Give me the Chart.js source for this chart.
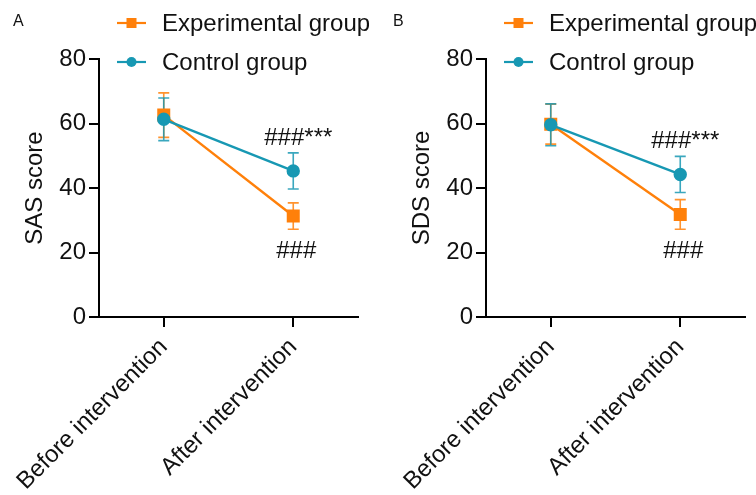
<!DOCTYPE html>
<html>
<head>
<meta charset="utf-8">
<script src="https://cdn.jsdelivr.net/npm/chart.js@4.4.1/dist/chart.umd.min.js"></script>
<style>
  body { margin: 0; background: #fff; }
  .panel { position: absolute; top: 0; height: 495px; }
</style>
</head>
<body>
<div class="panel" style="left:0;width:369px"><canvas id="chart-a" width="369" height="495"></canvas></div>
<div class="panel" style="left:387px;width:369px"><canvas id="chart-b" width="369" height="495"></canvas></div>
<script>
// values (mean and sd)
const categories = ['Before intervention', 'After intervention'];
const seriesNames = ['Experimental group', 'Control group'];
const yTicks = [0, 20, 40, 60, 80];

const sasExpMean = [62.6, 31.3];
const sasExpSd = [6.9, 4.1];
const sasCtrlMean = [61.3, 45.3];
const sasCtrlSd = [6.6, 5.6];

const sdsExpMean = [59.8, 31.8];
const sdsExpSd = [6.2, 4.6];
const sdsCtrlMean = [59.6, 44.2];
const sdsCtrlSd = [6.5, 5.6];

const sigAbove = '###***';
const sigBelow = '###';

const ORANGE = '#ff800a';
const TEAL = '#1798b3';
const FONT = '"Liberation Sans", Arial, sans-serif';

Chart.defaults.font.family = FONT;
Chart.defaults.color = '#111';

const decor = {
    id: 'decor',
    beforeDatasetsDraw(chart) {
        // error bars
        const ctx = chart.ctx;
        const y = chart.scales.y;
        chart.data.datasets.forEach((ds, di) => {
            const meta = chart.getDatasetMeta(di);
            ctx.save();
            ctx.strokeStyle = ds.borderColor;
            ctx.globalAlpha = 0.85;
            ctx.lineWidth = 1.6;
            ds.data.forEach((v, i) => {
                const x = meta.data[i].x;
                const top = y.getPixelForValue(v + ds.sd[i]);
                const bot = y.getPixelForValue(v - ds.sd[i]);
                ctx.beginPath();
                ctx.moveTo(x, top); ctx.lineTo(x, bot);
                ctx.moveTo(x - 5.5, top); ctx.lineTo(x + 5.5, top);
                ctx.moveTo(x - 5.5, bot); ctx.lineTo(x + 5.5, bot);
                ctx.stroke();
            });
            ctx.restore();
        });
    },
    afterDraw(chart, args, opts) {
        const ctx = chart.ctx;
        const area = chart.chartArea;
        const y = chart.scales.y;
        const x = chart.scales.x;
        ctx.save();

        // panel letter
        ctx.fillStyle = '#111';
        ctx.font = '16px ' + FONT;
        ctx.textBaseline = 'alphabetic';
        ctx.textAlign = 'left';
        ctx.fillText(opts.letter, opts.letterX, 26);

        // legend
        ctx.font = '24px ' + FONT;
        chart.data.datasets.forEach((ds, di) => {
            const ly = 23 + di * 39;
            const lx = area.left + 18;
            ctx.strokeStyle = ds.borderColor;
            ctx.fillStyle = ds.borderColor;
            ctx.lineWidth = 2.2;
            ctx.beginPath();
            ctx.moveTo(lx, ly); ctx.lineTo(lx + 29, ly);
            ctx.stroke();
            if (ds.pointStyle === 'rect') {
                ctx.fillRect(lx + 14.5 - 5, ly - 5, 10, 10);
            } else {
                ctx.beginPath();
                ctx.arc(lx + 14.5, ly, 5, 0, Math.PI * 2);
                ctx.fill();
            }
            ctx.fillStyle = '#111';
            ctx.textBaseline = 'middle';
            ctx.fillText(ds.label, area.left + 63, ly + 1);
        });

        // significance marks on the after-intervention point
        const exp = chart.data.datasets[0];
        const ctrl = chart.data.datasets[1];
        const cx = x.getPixelForValue(1);
        ctx.fillStyle = '#111';
        ctx.textBaseline = 'alphabetic';
        ctx.textAlign = 'left';
        ctx.fillText(sigAbove, cx - 29, y.getPixelForValue(ctrl.data[1] + ctrl.sd[1]) - 8);
        ctx.fillText(sigBelow, cx - 17, y.getPixelForValue(exp.data[1] - exp.sd[1]) + 29);
        ctx.restore();
    }
};

function makePanel(id, letter, letterX, yTitle, expMean, expSd, ctrlMean, ctrlSd) {
    const ctx = document.getElementById(id).getContext('2d');
    return new Chart(ctx, {
        type: 'line',
        data: {
            labels: categories,
            datasets: [{
                label: seriesNames[0],
                data: expMean,
                sd: expSd,
                borderColor: ORANGE,
                backgroundColor: ORANGE,
                pointBackgroundColor: ORANGE,
                pointBorderColor: ORANGE,
                pointStyle: 'rect',
                pointRadius: 7.5,
                borderWidth: 2.4,
                order: 1
            }, {
                label: seriesNames[1],
                data: ctrlMean,
                sd: ctrlSd,
                borderColor: TEAL,
                backgroundColor: TEAL,
                pointBackgroundColor: TEAL,
                pointBorderColor: TEAL,
                pointStyle: 'circle',
                pointRadius: 5.5,
                borderWidth: 2.4,
                order: 0
            }]
        },
        options: {
            responsive: false,
            animation: false,
            layout: { padding: { top: 59, right: 11, left: 0, bottom: 0 } },
            plugins: {
                legend: { display: false },
                tooltip: { enabled: false },
                decor: { letter: letter, letterX: letterX }
            },
            scales: {
                x: {
                    type: 'category',
                    offset: true,
                    grid: { display: true, drawOnChartArea: false, drawTicks: true, tickLength: 10, color: '#000', lineWidth: 2 },
                    border: { display: true, color: '#000', width: 2 },
                    ticks: { font: { size: 24 }, color: '#111', maxRotation: 45, minRotation: 45, autoSkip: false, padding: 6 },
                    afterFit: s => { s.height = 178; s.paddingLeft = 0; s.paddingRight = 0; }
                },
                y: {
                    min: 0,
                    max: 80,
                    afterBuildTicks: s => { s.ticks = yTicks.map(v => ({ value: v })); },
                    grid: { display: true, drawOnChartArea: false, drawTicks: true, tickLength: 10, color: '#000', lineWidth: 2 },
                    border: { display: true, color: '#000', width: 2 },
                    ticks: { font: { size: 24 }, color: '#111', padding: 3 },
                    title: { display: true, text: yTitle, font: { size: 24 }, color: '#111', padding: { top: 21 } },
                    afterFit: s => { s.width = 99; s.paddingTop = 0; s.paddingBottom = 0; }
                }
            }
        },
        plugins: [decor]
    });
}

makePanel('chart-a', 'A', 13, 'SAS score', sasExpMean, sasExpSd, sasCtrlMean, sasCtrlSd);
makePanel('chart-b', 'B', 6, 'SDS score', sdsExpMean, sdsExpSd, sdsCtrlMean, sdsCtrlSd);
</script>
</body>
</html>
